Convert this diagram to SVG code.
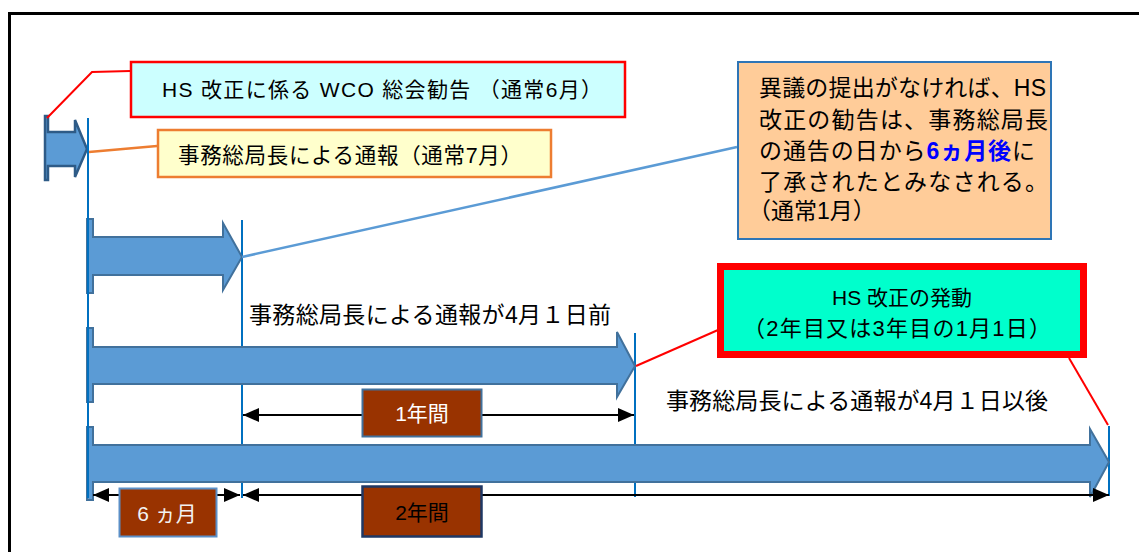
<svg xmlns="http://www.w3.org/2000/svg" width="1139" height="552" viewBox="0 0 1139 552">
<defs>
<style>
text{font-family:"Liberation Sans","Noto Sans CJK JP",sans-serif;fill:#000}
.arr{fill:#5B9BD5;stroke:#41719C;stroke-width:2;stroke-linejoin:miter}
.guide{stroke:#0070C0;stroke-width:2;fill:none}
.dim{stroke:#000;stroke-width:2;fill:none;marker-start:url(#ah);marker-end:url(#ah)}
.lbl{fill:#993300}
</style>
<marker id="ah" viewBox="0 0 16 14" refX="16" refY="7" markerWidth="16" markerHeight="14" markerUnits="userSpaceOnUse" orient="auto-start-reverse">
<path d="M0,0 L16,7 L0,14 Z" fill="#000"/>
</marker>
</defs>
<rect x="9.5" y="13.5" width="1140" height="560" fill="#fff" stroke="#000" stroke-width="3"/>

<g id="guides">
<line class="guide" x1="242" y1="220" x2="242" y2="498"/>
<line class="guide" x1="635" y1="333" x2="635" y2="497"/>
<line class="guide" x1="1109" y1="426" x2="1109" y2="496"/>
</g>

<g id="arrow-a">
<path d="M45,116 L48,116 L48,132 L75,132 L75,120 L87,149 L75,177 L75,166 L48,166 L48,180 L45,180 Z" fill="#5B9BD5" stroke="#2E5B87" stroke-width="2.5"/>
</g>
<g id="arrow-b">
<path class="arr" d="M87,219 L93,219 L93,237 L223,237 L223,223 L242,257 L223,290 L223,275 L93,275 L93,293 L87,293 Z"/>
</g>
<g id="arrow-c">
<path class="arr" d="M87,328 L93,328 L93,347 L617,347 L617,332 L635,366 L617,397 L617,384 L93,384 L93,402 L87,402 Z"/>
</g>
<g id="arrow-d">
<path class="arr" d="M87,427 L93,427 L93,445 L1090,445 L1090,429 L1109,462 L1090,497 L1090,482 L93,482 L93,500 L87,500 Z"/>
</g>
<g id="guide-start">
<line class="guide" x1="88" y1="118" x2="88" y2="498"/>
</g>

<g id="connectors">
<polyline points="47,118 92,72 130,71" fill="none" stroke="#FF0000" stroke-width="2"/>
<line x1="89" y1="152" x2="157" y2="146" stroke="#ED7D31" stroke-width="2.5"/>
<line x1="242" y1="257" x2="737" y2="147" stroke="#5B9BD5" stroke-width="2.5"/>
<line x1="636" y1="366" x2="718" y2="330" stroke="#FF0000" stroke-width="2"/>
<line x1="1069" y1="358" x2="1108" y2="425" stroke="#FF0000" stroke-width="2"/>
</g>

<g id="wco-box">
<rect x="131" y="62" width="494" height="55" fill="#CCFFFF" stroke="#FF0000" stroke-width="2.5"/>
<text x="162" y="97" font-size="21" textLength="440" lengthAdjust="spacing">HS 改正に係る WCO 総会勧告 （通常6月）</text>
</g>

<g id="notice-box">
<rect x="158" y="130" width="393" height="47" fill="#FFFFCC" stroke="#ED7D31" stroke-width="2.5"/>
<text x="178" y="163" font-size="21.5" textLength="344" lengthAdjust="spacing">事務総局長による通報（通常7月）</text>
</g>

<g id="objection-box">
<rect x="738" y="62" width="313" height="177" fill="#FFCC99" stroke="#2E75B6" stroke-width="2"/>
<text x="759" y="96" font-size="23" textLength="287" lengthAdjust="spacing">異議の提出がなければ、HS</text>
<text x="759" y="128" font-size="23" textLength="289" lengthAdjust="spacing">改正の勧告は、事務総局長</text>
<text x="759" y="159" font-size="23" textLength="276" lengthAdjust="spacing">の通告の日から<tspan fill="#0000FF" font-weight="bold">6ヵ月後</tspan>に</text>
<text x="759" y="190" font-size="23" textLength="289" lengthAdjust="spacing">了承されたとみなされる。</text>
<text x="748" y="219" font-size="23">（通常1月）</text>
</g>

<g id="label-before">
<text x="249" y="323" font-size="23" textLength="362" lengthAdjust="spacing">事務総局長による通報が4月１日前</text>
</g>

<g id="effect-box">
<rect x="720.5" y="266.5" width="363" height="88" fill="#00FFCC" stroke="#FF0000" stroke-width="7"/>
<text x="902" y="305" font-size="21" text-anchor="middle">HS 改正の発動</text>
<text x="743" y="336" font-size="22" textLength="308" lengthAdjust="spacing">（2年目又は3年目の1月1日）</text>
</g>

<g id="label-after">
<text x="666" y="409" font-size="23" textLength="382" lengthAdjust="spacing">事務総局長による通報が4月１日以後</text>
</g>

<g id="dim-1year">
<line class="dim" x1="243" y1="415" x2="634" y2="415"/>
<rect class="lbl" x="362.5" y="389.5" width="119" height="47" stroke="#41719C" stroke-width="2"/>
<text x="422" y="421" font-size="21" text-anchor="middle" style="fill:#FFFFFF">1年間</text>
</g>

<g id="dim-6month">
<line class="dim" x1="93" y1="495" x2="240" y2="495"/>
<rect class="lbl" x="119.5" y="488.5" width="97" height="48" stroke="#5B8FC7" stroke-width="2"/>
<text x="167" y="521" font-size="21" text-anchor="middle" style="fill:#F2F2F2">6 ヵ月</text>
</g>

<g id="dim-2year">
<line class="dim" x1="243" y1="495" x2="1109" y2="495"/>
<rect class="lbl" x="362.5" y="486.5" width="119" height="50" stroke="#1F3864" stroke-width="2.5"/>
<text x="422" y="520" font-size="21" text-anchor="middle">2年間</text>
</g>
</svg>
